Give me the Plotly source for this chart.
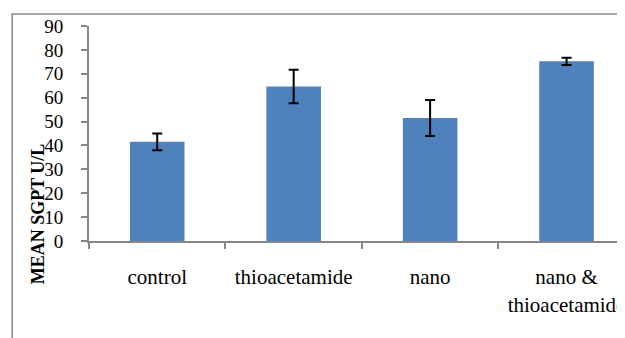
import plotly.graph_objects as go

categories = ["control", "thioacetamide", "nano", "nano &<br>thioacetamide"]
mean_sgpt = [41.5, 64.7, 51.5, 75.2]
error = [3.5, 7.0, 7.5, 1.5]
y_ticks = [0, 10, 20, 30, 40, 50, 60, 70, 80, 90]

# page has an 8px body margin, so offsets compensate
OFF = 8
W, H = 625, 338
L, R, T, B = 89 - OFF, OFF, 24 - OFF, 97 + OFF
plot_w = W - L - R
plot_h = H - T - B
cat_w = 136.7

fig = go.Figure(go.Bar(
    x=categories, y=mean_sgpt,
    marker=dict(color="#4F81BD", line=dict(width=0)),
    width=0.4,
    error_y=dict(type="data", array=error, visible=True, color="black", thickness=2, width=5),
))

font = "Liberation Serif, Times New Roman, serif"
fig.update_layout(
    width=W, height=H,
    margin=dict(l=L, r=R, t=T, b=B),
    paper_bgcolor="white", plot_bgcolor="white",
    showlegend=False,
    font=dict(family=font, color="black", size=18),
    xaxis=dict(
        type="category",
        range=[-0.5, -0.5 + plot_w / cat_w],
        showline=True, linecolor="#868686", linewidth=2,
        ticks="outside", tickson="boundaries", ticklen=6, tickcolor="#868686", tickwidth=1.5,
        showgrid=False, zeroline=False,
        ticklabelstandoff=16,
        tickfont=dict(size=21, family=font),
    ),
    yaxis=dict(
        range=[0, 90], tickvals=y_ticks,
        showline=True, linecolor="#868686", linewidth=2,
        ticks="outside", ticklen=6, tickcolor="#868686", tickwidth=1.5,
        showgrid=False, zeroline=False,
        ticklabelstandoff=14,
        tickfont=dict(size=19, family=font),
    ),
    shapes=[dict(
        type="rect", xref="paper", yref="paper",
        x0=(12 - OFF - L) / plot_w, x1=1.2,
        y0=-0.6, y1=(H - B - (12 - OFF)) / plot_h,
        line=dict(color="#8a8a8a", width=1.5),
        fillcolor="rgba(0,0,0,0)", layer="below",
    )],
    annotations=[dict(
        text="<b>MEAN SGPT U/L</b>", textangle=-90,
        xref="paper", yref="paper",
        x=(38 - OFF - L) / plot_w, y=(H - B - (214 - OFF)) / plot_h,
        xanchor="center", yanchor="middle", showarrow=False,
        font=dict(size=18, family=font, color="black"),
    )],
)

fig.write_html("out.html")
